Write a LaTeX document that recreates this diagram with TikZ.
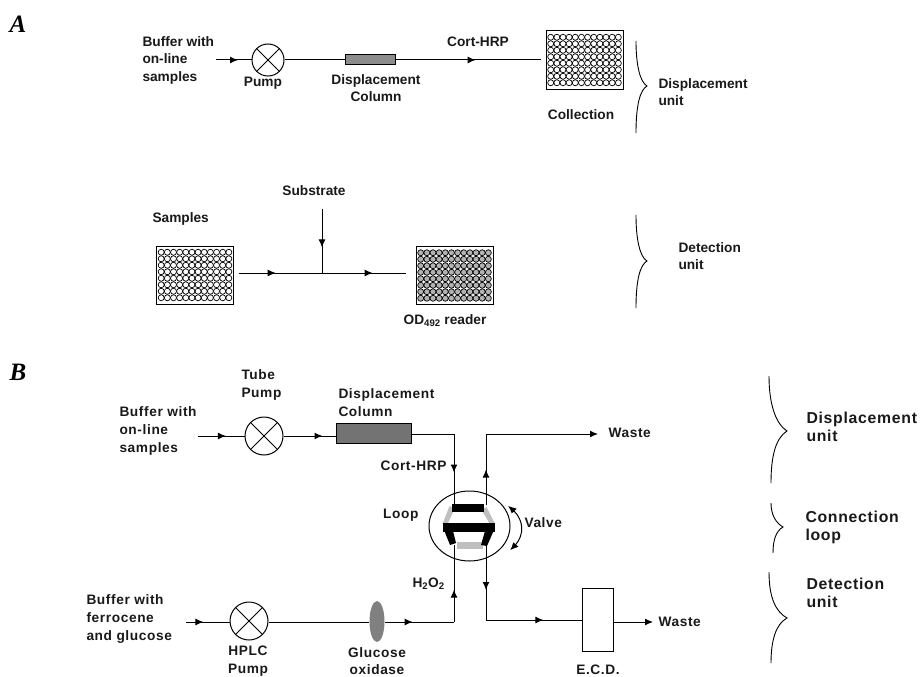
\documentclass[tikz,border=0pt]{standalone}
\usepackage{fontspec}
\setmainfont{Liberation Sans}
\newfontfamily\panelfont{Liberation Serif}
\newfontfamily\widefont[LetterSpace=4.5]{Liberation Sans}
\usetikzlibrary{arrows.meta, bending, calc, decorations.markings, shapes.geometric}

\newcommand{\wellgrid}[2]{%
  \foreach \c in {0,...,11}
    \foreach \r in {0,...,7}
      \draw[line width=0.7pt, fill=#2] ($(#1.center)+(\c*6.15-33.8,\r*6.5-22.75)$) circle (3);
}

\begin{document}
\begin{tikzpicture}[
  x=1pt, y=-1pt,
  line width=1pt,
  tag/.style={inner sep=0pt, font=\bfseries\fontsize{13.7}{17.5}\selectfont, align=left, text=black!90},
  tagc/.style={tag, align=center},
  wide/.style={inner sep=0pt, font=\widefont\bfseries\fontsize{13.7}{17.7}\selectfont, align=left, text=black!90},
  widec/.style={wide, align=center},
  unitlabel/.style={inner sep=0pt, font=\widefont\bfseries\fontsize{15.8}{18}\selectfont, align=left, text=black!90},
  panel/.style={inner sep=0pt, font=\panelfont\bfseries\itshape\fontsize{25}{25}\selectfont},
  pumpA/.style={circle, draw, inner sep=0pt, minimum size=32},
  pumpB/.style={circle, draw, inner sep=0pt, minimum size=38},
  column/.style={rectangle, draw, inner sep=0pt, fill=black!45},
  plate/.style={rectangle, draw, inner sep=0pt, minimum width=77, minimum height=58},
  detector/.style={rectangle, draw, inner sep=0pt, minimum width=31, minimum height=63},
  tip/.style={postaction={decorate}, decoration={markings, mark=at position #1 with {\arrow{Latex[length=8pt, width=7pt]}}}},
  endtip/.style={-{Latex[length=8pt, width=7pt]}},
  brace/.style={line width=0.9pt}
]
\useasboundingbox (0,0) rectangle (921,677);

\node[panel] (panelA) at (18,24) {A};
\node[panel] (panelB) at (18,372) {B};

\node[tag, anchor=west] (bufferA) at (142,60) {Buffer with\\on-line\\samples};
\coordinate (bufferAend) at (216,60);
\node[pumpA] (pumpa) at (268,60) {};
\draw (pumpa.45) -- (pumpa.225) (pumpa.135) -- (pumpa.315);
\node[tagc] (pumpalabel) at (263,83) {Pump};
\node[column, minimum width=50, minimum height=10] (columna) at (370,60) {};
\node[tagc] (columnalabel) at (376,88) {Displacement\\Column};
\node[tagc] (corta) at (478,42) {Cort-HRP};
\node[plate] (collect) at (584.5,60) {};
\wellgrid{collect}{white}
\coordinate (collectin) at (541,60);
\node[tagc] (collectlabel) at (581,115) {Collection};
\draw[tip=0.62] (bufferAend) -- (pumpa);
\draw (pumpa) -- (columna);
\draw[tip=0.55] (columna) -- (collectin);
\draw[brace] (636,41) .. controls (636,65) and (640,82) .. (647,86) .. controls (640,90) and (636,105) .. (636,133);
\node[tag, anchor=west] (unitA1) at (658,92) {Displacement\\unit};

\node[tag, anchor=west] (samples) at (152,219) {Samples};
\node[plate] (sampleplate) at (195,275) {};
\wellgrid{sampleplate}{white}
\node[tagc] (substrate) at (314,191) {Substrate};
\coordinate (subin) at (322,209);
\coordinate (junction) at (322,273);
\coordinate (linestart) at (239,273);
\coordinate (lineend) at (406,273);
\node[plate] (reader) at (454.5,275.5) {};
\wellgrid{reader}{black!30}
\node[tagc] (readerlabel) at (445,321) {OD\textsubscript{492} reader};
\draw[tip=0.22] (linestart) -- (lineend);
\draw[tip=0.8] (linestart) -- (lineend);
\draw[tip=0.6] (subin) -- (junction);
\draw[brace] (636,215) .. controls (636,240) and (640,257) .. (647,261) .. controls (640,265) and (636,280) .. (636,308);
\node[tag, anchor=west] (unitA2) at (678,256) {Detection\\unit};

\node[wide, anchor=west] (bufferB) at (119,431) {Buffer with\\on-line\\samples};
\coordinate (bufferBend) at (198,436);
\node[pumpB] (tubepump) at (264,436) {};
\draw (tubepump.45) -- (tubepump.225) (tubepump.135) -- (tubepump.315);
\node[wide, anchor=west] (tubelabel) at (241,385) {Tube\\Pump};
\node[column, minimum width=75, minimum height=20, fill=black!55] (columnb) at (373.5,433.5) {};
\node[wide, anchor=west] (columnblabel) at (338,402.5) {Displacement\\Column};
\node[wide, anchor=east] (cortb) at (447,466) {Cort-HRP};
\node[wide, anchor=east] (looplabel) at (419,515) {Loop};
\node[wide, anchor=west] (valvelabel) at (524,523) {Valve};
\node[wide, anchor=west] (wastetop) at (608,433) {Waste};
\coordinate (wastetopin) at (598,434);

\node[draw, ellipse, minimum width=81, minimum height=70, inner sep=0pt] (valve) at (469.5,526) {};
\coordinate (portA) at (454,504);
\coordinate (portB) at (486,505);
\coordinate (portC) at (454,545);
\coordinate (portD) at (486,545);
\fill[black!25] (449.5,506) -- (454.5,509) -- (447.5,524) -- (442.5,524) -- cycle;
\fill[black!25] (486.5,507) -- (481.5,510) -- (490,524) -- (495,524) -- cycle;
\fill[black!25] (457,542) rectangle (483,549);
\fill (452,504) rectangle (484,512);
\fill (443,523) rectangle (495,532);
\fill (444,530) -- (450,545) -- (456,543) -- (453,531) -- cycle;
\fill (494,530) -- (487,546) -- (481,545) -- (485,531) -- cycle;
\coordinate (arcup) at (508,506);
\coordinate (arcdown) at (510,550);
\draw[{Latex[length=8pt, width=7pt, bend]}-{Latex[length=8pt, width=7pt, bend]}] (arcup) .. controls (526,518) and (526,538) .. (arcdown);

\coordinate (colcorner) at (454,434);
\draw[tip=0.75] (tubepump) -- (columnb.west |- tubepump);
\draw[tip=0.6] (bufferBend) -- (tubepump);
\draw (columnb.east |- colcorner) -- (colcorner);
\draw[tip=0.55] (colcorner) -- (portA);
\draw[tip=0.5] (portB) -- (486,434);
\draw[endtip] (486,434) -- (wastetopin);

\node[wide, anchor=west] (bufferC) at (86,619) {Buffer with\\ferrocene\\and glucose};
\coordinate (bufferCend) at (186,622);
\node[pumpB] (hplcpump) at (249,621) {};
\draw (hplcpump.45) -- (hplcpump.225) (hplcpump.135) -- (hplcpump.315);
\node[widec] (hplclabel) at (248,661) {HPLC\\Pump};
\node[ellipse, fill=black!50, inner sep=0pt, minimum width=15, minimum height=41] (oxidase) at (377,621.5) {};
\node[widec] (oxidaselabel) at (377,661) {Glucose\\oxidase};
\node[wide, anchor=west] (peroxide) at (412,584) {H\textsubscript{2}O\textsubscript{2}};
\coordinate (oxcorner) at (454,622);
\draw[tip=0.4] (bufferCend) -- (hplcpump.west |- bufferCend);
\draw (hplcpump.east |- oxcorner) -- (oxidase.west |- oxcorner);
\draw[tip=0.4] (oxidase.east |- oxcorner) -- (oxcorner);
\draw[tip=0.42] (oxcorner) -- (portC);

\node[detector] (ecd) at (597.5,619.5) {};
\node[widec] (ecdlabel) at (598,670) {E.C.D.};
\node[wide, anchor=west] (wastebottom) at (658,622) {Waste};
\coordinate (wastebotin) at (653,622);
\coordinate (ecdcorner) at (486,620);
\draw[tip=0.6] (portD) -- (ecdcorner);
\draw[tip=0.6] (ecdcorner) -- (ecd.west |- ecdcorner);
\draw[endtip] (ecd.east |- wastebotin) -- (wastebotin);

\draw[brace] (769,376) .. controls (769,405) and (776,424) .. (787,431) .. controls (776,438) and (771,455) .. (771,483);
\node[unitlabel, anchor=west] (unitB1) at (806,427) {Displacement\\unit};
\draw[brace] (771,503) .. controls (771,515) and (776,523) .. (783,527) .. controls (776,531) and (773,540) .. (773,553);
\node[unitlabel, anchor=west] (unitB2) at (805,527) {Connection\\loop};
\draw[brace] (769,572) .. controls (769,598) and (776,612) .. (787,618) .. controls (776,624) and (771,640) .. (771,663);
\node[unitlabel, anchor=west] (unitB3) at (806,593) {Detection\\unit};
\end{tikzpicture}
\end{document}
